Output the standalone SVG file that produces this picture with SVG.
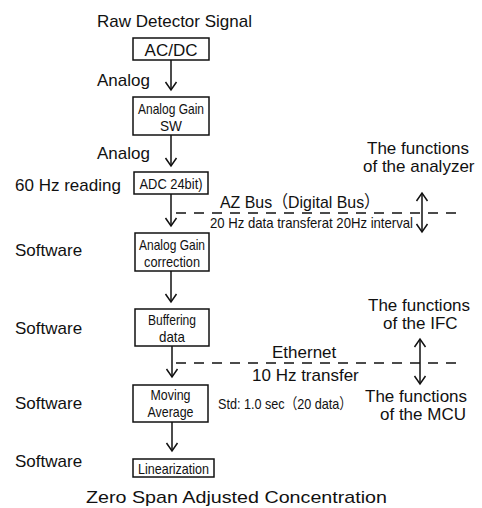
<svg xmlns="http://www.w3.org/2000/svg" width="482" height="508" viewBox="0 0 482 508">
<style>
  .lbl { font-family: "Liberation Sans", "Noto Sans CJK JP", sans-serif; font-size: 17px; fill: #111; }
  .nar { font-family: "Liberation Sans", "Noto Sans CJK JP", sans-serif; font-size: 15px; fill: #111; }
  .sm { font-family: "Liberation Sans", "Noto Sans CJK JP", sans-serif; font-size: 15px; fill: #111; }
  .box { fill: #fff; stroke: #111; stroke-width: 1.5; }
  .line { stroke: #111; stroke-width: 1.5; fill: none; }
  .dash { stroke: #111; stroke-width: 1.5; fill: none; stroke-dasharray: 10 8; }
</style>
<defs>
  <marker id="ah" viewBox="-11 -7 13 14" refX="0" refY="0" markerWidth="13" markerHeight="14" markerUnits="userSpaceOnUse" orient="auto-start-reverse">
    <path d="M-8,-5.5 L0,0 L-8,5.5" fill="none" stroke="#111" stroke-width="1.5"/>
  </marker>
</defs>
<rect width="482" height="508" fill="#fff"/>

<g id="connectors">
  <line class="line" x1="171" y1="60" x2="171" y2="90" marker-end="url(#ah)"/>
  <line class="line" x1="171" y1="135" x2="171" y2="166" marker-end="url(#ah)"/>
  <line class="line" x1="171" y1="194" x2="171" y2="226" marker-end="url(#ah)"/>
  <line class="line" x1="171" y1="271" x2="171" y2="302" marker-end="url(#ah)"/>
  <line class="line" x1="172" y1="346" x2="172" y2="377" marker-end="url(#ah)"/>
  <line class="line" x1="172" y1="422" x2="172" y2="451" marker-end="url(#ah)"/>
  <line class="dash" x1="176" y1="213" x2="456" y2="213"/>
  <line class="dash" x1="176" y1="363" x2="456" y2="363"/>
  <line class="line" x1="422" y1="193" x2="422" y2="232" marker-start="url(#ah)" marker-end="url(#ah)"/>
  <line class="line" x1="420" y1="339" x2="420" y2="384" marker-start="url(#ah)" marker-end="url(#ah)"/>
</g>

<g id="raw-signal"><text class="lbl" x="97" y="27">Raw Detector Signal</text></g>

<g id="acdc">
  <rect class="box" x="133" y="38" width="76" height="22"/>
  <text class="lbl" x="171" y="56" text-anchor="middle">AC/DC</text>
</g>
<text class="lbl" x="97" y="86">Analog</text>

<g id="analog-gain-sw">
  <rect class="box" x="133" y="97" width="76" height="38"/>
  <text class="nar" x="171" y="114" text-anchor="middle" textLength="66" lengthAdjust="spacingAndGlyphs">Analog Gain</text>
  <text class="nar" x="171" y="131" text-anchor="middle" textLength="22" lengthAdjust="spacingAndGlyphs">SW</text>
</g>
<text class="lbl" x="97" y="159">Analog</text>

<g id="adc">
  <rect class="box" x="134" y="172" width="74" height="22"/>
  <text class="nar" x="171" y="189" text-anchor="middle" textLength="63" lengthAdjust="spacingAndGlyphs">ADC 24bit)</text>
</g>
<text class="lbl" x="15" y="191">60 Hz reading</text>

<g id="az-bus">
  <text class="lbl" x="220" y="208" textLength="160" lengthAdjust="spacingAndGlyphs">AZ Bus（Digital Bus）</text>
  <text class="sm" x="210" y="228" textLength="203" lengthAdjust="spacingAndGlyphs">20 Hz data transferat 20Hz interval</text>
</g>
<g id="analyzer-label">
  <text class="lbl" x="367" y="154">The functions</text>
  <text class="lbl" x="363" y="172">of the analyzer</text>
</g>

<g id="analog-gain-correction">
  <rect class="box" x="135" y="233" width="74" height="38"/>
  <text class="nar" x="172" y="250" text-anchor="middle" textLength="66" lengthAdjust="spacingAndGlyphs">Analog Gain</text>
  <text class="nar" x="172" y="267" text-anchor="middle" textLength="56" lengthAdjust="spacingAndGlyphs">correction</text>
</g>
<text class="lbl" x="15" y="256">Software</text>

<g id="buffering">
  <rect class="box" x="135" y="309" width="74" height="37"/>
  <text class="nar" x="172" y="325" text-anchor="middle" textLength="48" lengthAdjust="spacingAndGlyphs">Buffering</text>
  <text class="nar" x="172" y="342" text-anchor="middle" textLength="26" lengthAdjust="spacingAndGlyphs">data</text>
</g>
<text class="lbl" x="15" y="334">Software</text>

<g id="ethernet">
  <text class="lbl" x="272" y="358">Ethernet</text>
  <text class="lbl" x="252" y="381">10 Hz transfer</text>
</g>
<g id="ifc-label">
  <text class="lbl" x="368" y="311">The functions</text>
  <text class="lbl" x="383" y="329">of the IFC</text>
</g>

<g id="moving-average">
  <rect class="box" x="133" y="385" width="75" height="37"/>
  <text class="nar" x="170.5" y="400" text-anchor="middle" textLength="40" lengthAdjust="spacingAndGlyphs">Moving</text>
  <text class="nar" x="170.5" y="417" text-anchor="middle" textLength="46" lengthAdjust="spacingAndGlyphs">Average</text>
</g>
<text class="lbl" x="15" y="409">Software</text>
<text class="sm" x="218" y="409" textLength="134" lengthAdjust="spacingAndGlyphs">Std: 1.0 sec（20 data）</text>
<g id="mcu-label">
  <text class="lbl" x="365" y="402">The functions</text>
  <text class="lbl" x="380" y="420">of the MCU</text>
</g>

<g id="linearization">
  <rect class="box" x="133" y="459" width="81" height="18"/>
  <text class="nar" x="173.5" y="474" text-anchor="middle" textLength="71" lengthAdjust="spacingAndGlyphs">Linearization</text>
</g>
<text class="lbl" x="15" y="467">Software</text>

<g id="output"><text class="lbl" x="86" y="503" textLength="301" lengthAdjust="spacingAndGlyphs">Zero Span Adjusted Concentration</text></g>
</svg>
